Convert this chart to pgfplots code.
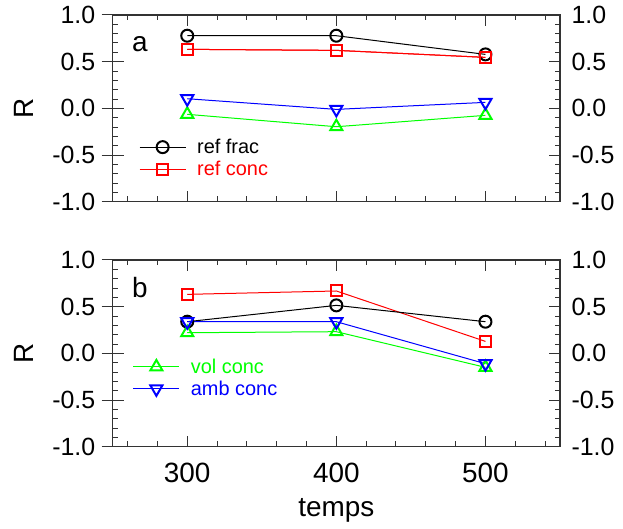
\documentclass[border=0pt]{standalone}
\usepackage{fontspec}
\setmainfont{Liberation Sans}
\usepackage{pgfplots}
\pgfplotsset{compat=1.18}

\definecolor{cgreen}{RGB}{0,255,0}
\definecolor{cred}{RGB}{255,0,0}
\definecolor{cblue}{RGB}{0,0,255}

\pgfplotsset{
  panel/.style={
    scale only axis, width=447.3bp, height=186.7bp, anchor=south west,
    xmin=250, xmax=550, ymin=-1, ymax=1,
    xtick={300,400,500},
    minor xtick={260,280,320,340,360,380,420,440,460,480,520,540},
    ytick={-1,-0.5,0,0.5,1}, minor y tick num=4,
    xtick pos=both, ytick pos=both, yticklabel pos=right,
    tick align=inside,
    major tick length=11bp, minor tick length=5.5bp,
    axis line style={black!80, line width=1.1bp},
    every tick/.style={black!80, line width=1bp},
    /pgf/number format/assume math mode=true,
    yticklabel style={font=\fontsize{25}{30}\selectfont, /pgf/number format/fixed,
      /pgf/number format/fixed zerofill, /pgf/number format/precision=1, xshift=8bp},
    xticklabel style={font=\fontsize{28}{32}\selectfont, yshift=-13bp},
    legend style={draw=none, fill=none, inner sep=0pt, column sep=11bp, row sep=6bp,
      nodes={inner sep=0pt, anchor=west}, font=\fontsize{20}{24}\selectfont},
    legend cell align=left,
    legend image code/.code={
      \draw[mark repeat=2, mark phase=2, #1] plot coordinates {(0bp,0bp) (23bp,0bp) (46bp,0bp)};
    },
  },
  leftax/.style={
    scale only axis, width=447.3bp, height=186.7bp, anchor=south west,
    xmin=250, xmax=550, ymin=-1, ymax=1,
    hide x axis,
    ytick={-1,-0.5,0,0.5,1}, minor tick num=0,
    ytick pos=left, yticklabel pos=left, tick align=outside,
    major tick length=11bp,
    axis line style={black!80, line width=1.1bp},
    every tick/.style={black!80, line width=1bp},
    /pgf/number format/assume math mode=true,
    yticklabel style={font=\fontsize{25}{30}\selectfont, /pgf/number format/fixed,
      /pgf/number format/fixed zerofill, /pgf/number format/precision=1, xshift=-3bp},
    ylabel={R}, ylabel style={font=\fontsize{28}{32}\selectfont,
      at={(axis description cs:-0.198,0.5)}, anchor=center},
  },
  sfrac/.style={black, line width=1bp, mark=o, mark size=6bp, mark options={line width=2bp}},
  sref/.style={cred, line width=1bp, mark=square, mark size=5.5bp, mark options={line width=2bp}},
  svol/.style={cgreen, line width=1bp, mark=triangle, mark size=7bp, mark options={line width=2bp}},
  samb/.style={cblue, line width=1bp, mark=triangle, mark size=7bp, mark options={line width=2bp, rotate=180}},
}

\begin{document}
\begin{tikzpicture}
\path[use as bounding box] (0bp,0bp) rectangle (623bp,529bp);

% panel a
\begin{axis}[panel, at={(112.7bp,327.3bp)}, xticklabels={},
  legend style={at={(axis cs:267.6,-0.533)}, anchor=west}]
\addplot[svol, forget plot] coordinates {(300,-0.064) (400,-0.197) (500,-0.075)};
\addplot[samb, forget plot] coordinates {(300,0.103) (400,-0.011) (500,0.064)};
\addplot[sref, forget plot] coordinates {(300,0.632) (400,0.621) (500,0.546)};
\addplot[sfrac] coordinates {(300,0.778) (400,0.778) (500,0.578)};
\addlegendentry{\textcolor{black}{ref frac}}
\addplot[sref] coordinates {(300,0.632) (400,0.621) (500,0.546)};
\addlegendentry{\textcolor{cred}{ref conc}}
\node[font=\fontsize{28}{32}\selectfont] at (axis cs:268.3,0.689) {a};
\end{axis}
\begin{axis}[leftax, at={(112.7bp,327.3bp)}]
\end{axis}

% panel b
\begin{axis}[panel, at={(112.7bp,82.3bp)}, xticklabel pos=bottom, xtick pos=both,
  xlabel={temps}, xlabel style={font=\fontsize{28}{32}\selectfont,
    at={(axis description cs:0.5,0)}, anchor=base, yshift=-70bp},
  legend style={at={(axis cs:263.4,-0.263)}, anchor=west}]
\addplot[sref, forget plot] coordinates {(300,0.632) (400,0.668) (500,0.128)};
\addplot[sfrac, forget plot] coordinates {(300,0.339) (400,0.514) (500,0.339)};
\addplot[svol] coordinates {(300,0.221) (400,0.232) (500,-0.150)};
\addlegendentry{\textcolor{cgreen}{vol conc}}
\addplot[samb] coordinates {(300,0.339) (400,0.339) (500,-0.111)};
\addlegendentry{\textcolor{cblue}{amb conc}}
\node[font=\fontsize{28}{32}\selectfont] at (axis cs:268.3,0.70) {b};
\end{axis}
\begin{axis}[leftax, at={(112.7bp,82.3bp)}]
\end{axis}
\end{tikzpicture}
\end{document}
